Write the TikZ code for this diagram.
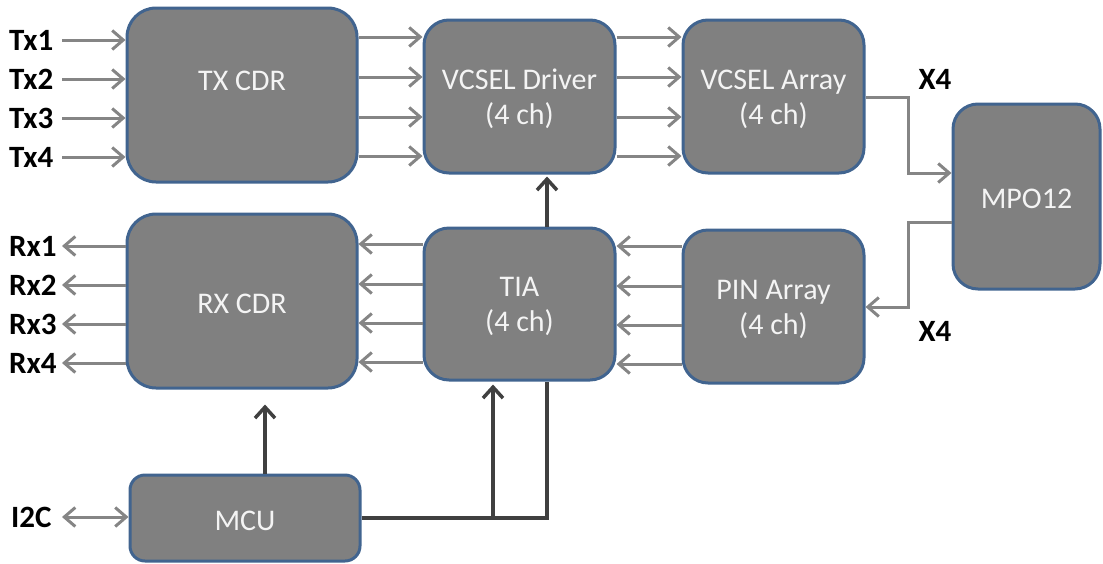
\documentclass[tikz,border=0pt]{standalone}
\usepackage{fontspec}
\setmainfont{Carlito}
\usetikzlibrary{arrows.meta}
\definecolor{boxfill}{HTML}{808080}
\definecolor{boxline}{HTML}{41648F}
\definecolor{garr}{HTML}{858585}
\definecolor{darr}{HTML}{404040}
\definecolor{boxtext}{HTML}{F4F4F4}
\newcommand{\dnstrut}{\rule{0pt}{25pt}}
\begin{document}
\begin{tikzpicture}[x=1pt,y=-1pt,
  blk/.style={draw=boxline, line width=3pt, fill=boxfill, text=boxtext,
    font=\fontsize{30}{35}\selectfont, align=center, inner sep=0pt, anchor=center},
  sig/.style={font=\bfseries\fontsize{31}{33}\selectfont, text=black, inner sep=0pt},
  garrow/.style={draw=garr, line width=3pt, -{Straight Barb[length=11pt,width=19pt]}},
  gdarrow/.style={draw=garr, line width=3pt, {Straight Barb[length=11pt,width=19pt]}-{Straight Barb[length=11pt,width=19pt]}},
  darrow/.style={draw=darr, line width=3.5pt, -{Straight Barb[length=11pt,width=20pt]}},
  dline/.style={draw=darr, line width=3.5pt}]
\useasboundingbox (0,0) rectangle (1103,563);

% blocks
\node[blk, minimum width=230pt, minimum height=174pt, rounded corners=29pt] (txcdr) at (242,95) {\dnstrut TX CDR\\\mbox{}};
\node[blk, minimum width=191pt, minimum height=153pt, rounded corners=25pt] (vdrv) at (519.5,96.5) {\dnstrut VCSEL Driver\\(4 ch)};
\node[blk, minimum width=181pt, minimum height=153pt, rounded corners=25pt] (varr) at (773.5,96.5) {\dnstrut VCSEL Array\\(4 ch)};
\node[blk, minimum width=147pt, minimum height=185pt, rounded corners=25pt] (mpo) at (1026.5,196.5) {\dnstrut MPO12};
\node[blk, minimum width=230pt, minimum height=174pt, rounded corners=29pt] (rxcdr) at (242,301) {\dnstrut RX CDR};
\node[blk, minimum width=191pt, minimum height=152pt, rounded corners=25pt] (tia) at (519.5,304) {\dnstrut TIA\\(4 ch)};
\node[blk, minimum width=181pt, minimum height=153pt, rounded corners=25pt] (pin) at (773.5,306.5) {\dnstrut PIN Array\\(4 ch)};
\node[blk, minimum width=230pt, minimum height=86pt, rounded corners=15pt] (mcu) at (245,518) {\dnstrut MCU};

% signal labels
\node[sig, anchor=west] (tx1) at (9,40) {Tx1};
\node[sig, anchor=west] (tx2) at (9,79) {Tx2};
\node[sig, anchor=west] (tx3) at (9,118) {Tx3};
\node[sig, anchor=west] (tx4) at (9,157) {Tx4};
\node[sig, anchor=west] (rx1) at (9,246) {Rx1};
\node[sig, anchor=west] (rx2) at (9,285) {Rx2};
\node[sig, anchor=west] (rx3) at (9,324) {Rx3};
\node[sig, anchor=west] (rx4) at (9,363) {Rx4};
\node[sig, anchor=west] (i2c) at (11,517) {I2C};
\node[sig] (x4a) at (935,79) {X4};
\node[sig] (x4b) at (935,331) {X4};

% helper coordinates
\coordinate (xl) at (62,0);
\coordinate (xm) at (908,0);
\coordinate (xa) at (547,0);
\coordinate (xb) at (493,0);
\coordinate (xc) at (265,0);

% Tx inputs
\foreach \n in {tx1,tx2,tx3,tx4}
  \draw[garrow] (\n.east -| xl) -- (\n.east -| txcdr.west);
% TX CDR -> VCSEL Driver
\foreach \y in {37,77,117,156}
  \draw[garrow] (txcdr.east |- 0,\y) -- (vdrv.west |- 0,\y);
% VCSEL Driver -> VCSEL Array
\foreach \y in {37,77,117,156}
  \draw[garrow] (vdrv.east |- 0,\y) -- (varr.west |- 0,\y);
% VCSEL Array -> MPO12
\draw[garrow] (varr.east |- 0,97) -- (xm |- 0,97) -- (xm |- 0,173) -- (mpo.west |- 0,173);
% MPO12 -> PIN Array
\draw[garrow] (mpo.west |- 0,222) -- (xm |- 0,222) -- (xm |- 0,307) -- (pin.east |- 0,307);
% PIN Array -> TIA
\foreach \y in {246,286,325,364}
  \draw[garrow] (pin.west |- 0,\y) -- (tia.east |- 0,\y);
% TIA -> RX CDR
\foreach \y in {244,284,323,362}
  \draw[garrow] (tia.west |- 0,\y) -- (rxcdr.east |- 0,\y);
% RX CDR -> Rx outputs
\foreach \n in {rx1,rx2,rx3,rx4}
  \draw[garrow] (\n.east -| rxcdr.west) -- (\n.east -| xl);
% I2C <-> MCU
\draw[gdarrow] (i2c.east -| xl) -- (i2c.east -| mcu.west);

% TIA -> VCSEL Driver
\draw[darrow] (tia.north -| xa) -- ([yshift=-2pt]vdrv.south -| xa);
% MCU -> RX CDR
\draw[darrow] (mcu.north -| xc) -- ([yshift=-15pt]rxcdr.south -| xc);
% MCU -> TIA
\draw[dline] (mcu.east |- 0,518) -- (xa |- 0,518) -- (tia.south -| xa);
\draw[darrow] (xb |- 0,518) -- ([yshift=-3pt]tia.south -| xb);
\end{tikzpicture}
\end{document}
